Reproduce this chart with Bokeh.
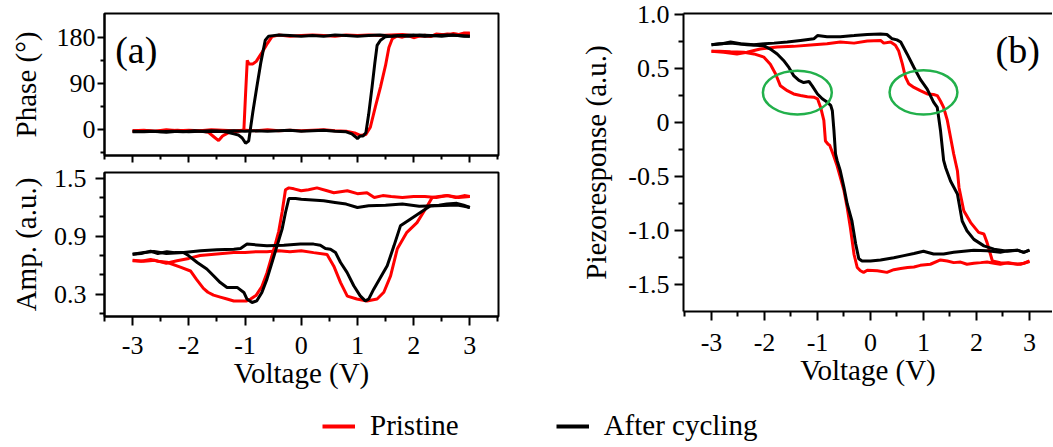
from bokeh.plotting import figure
from bokeh.models import FixedTicker, LinearAxis, Label, Legend, LegendItem, Range1d
from bokeh.layouts import column, row
from bokeh.embed import file_html
from bokeh.resources import INLINE

FONT = "Liberation Serif"
RED = "#ff0000"
BLACK = "#000000"
GREEN = "#22b04b"

# ---------------- data: phase (a, top) ----------------
phase_black_up_v = [-3.0,-2.8,-2.6,-2.4,-2.2,-2.0,-1.8,-1.6,-1.4,-1.2,-1.0,-0.8,-0.6,-0.4,-0.2,0.0,0.2,0.4,0.6,0.8,0.9,0.97,1.0,1.05,1.1,1.15,1.2,1.26,1.31,1.35,1.41,1.5,1.7,1.9,2.1,2.3,2.5,2.7,2.9,3.0]
phase_black_up = [-3,-4,-3,-5,-3,-4,-3,-2,-3,-2,-3,-2,-3,-2,-1,-3,-2,-1,-3,-4,-8,-14,-17,-12,-12,-6,30,83,130,164,174,181,183,182,184,183,182,184,182,182]
phase_black_down_v = [3.0,2.8,2.6,2.4,2.2,2.0,1.8,1.6,1.4,1.2,1.0,0.8,0.6,0.4,0.2,0.0,-0.2,-0.4,-0.5,-0.58,-0.64,-0.72,-0.79,-0.86,-0.935,-0.99,-1.05,-1.12,-1.2,-1.35,-1.5,-1.7,-1.9,-2.1,-2.3,-2.5,-2.7,-2.9,-3.0]
phase_black_down = [182,183,184,183,182,184,183,182,184,183,182,183,184,182,183,182,183,184,183,182,174,130,83,35,-22,-26,-16,-10,-8,-4,-3,-4,-2,-4,-3,-4,-3,-4,-4]
phase_red_up_v = [-3.0,-2.8,-2.6,-2.4,-2.2,-2.0,-1.8,-1.6,-1.4,-1.2,-1.0,-0.8,-0.6,-0.4,-0.2,0.0,0.2,0.4,0.6,0.8,0.95,1.05,1.15,1.23,1.32,1.41,1.5,1.56,1.62,1.7,1.8,1.9,2.0,2.1,2.2,2.3,2.4,2.5,2.6,2.7,2.8,2.9,3.0]
phase_red_up = [-2,-1,-3,0,-2,-1,-2,0,-1,-2,-1,-2,0,-2,-1,-2,-1,0,-2,-3,-6,-11,-9,5,45,83,125,160,177,182,180,183,179,182,184,181,186,185,183,187,185,188,188]
phase_red_down_v = [3.0,2.8,2.6,2.4,2.2,2.0,1.8,1.6,1.4,1.2,1.0,0.8,0.6,0.4,0.2,0.0,-0.2,-0.4,-0.52,-0.6,-0.7,-0.8,-0.86,-0.93,-0.96,-0.99,-1.02,-1.1,-1.2,-1.3,-1.4,-1.47,-1.55,-1.65,-1.8,-2.0,-2.2,-2.4,-2.6,-2.8,-3.0]
phase_red_down = [187,185,186,183,182,183,185,184,183,184,183,184,182,183,184,183,182,184,181,168,150,133,128,128,135,70,0,-3,-4,-6,-12,-21,-14,-5,-2,-3,-1,-2,-3,-2,-3]

# ---------------- data: amplitude (a, bottom) ----------------
amp_red_down_v = [3.0,2.8,2.6,2.4,2.2,2.0,1.8,1.6,1.45,1.3,1.17,1.0,0.82,0.58,0.46,0.28,0.13,0.0,-0.13,-0.22,-0.28,-0.34,-0.4,-0.47,-0.54,-0.61,-0.7,-0.8,-0.9,-0.97,-1.1,-1.2,-1.32,-1.44,-1.56,-1.66,-1.74,-1.86,-1.97,-2.15,-2.39,-2.55,-2.68,-2.85,-3.0]
amp_red_down = [1.31,1.30,1.32,1.30,1.31,1.31,1.30,1.31,1.32,1.30,1.35,1.34,1.37,1.35,1.37,1.40,1.38,1.37,1.39,1.40,1.38,1.15,0.95,0.80,0.66,0.52,0.38,0.29,0.25,0.23,0.23,0.23,0.25,0.27,0.29,0.32,0.36,0.45,0.54,0.58,0.63,0.64,0.66,0.64,0.645]
amp_red_up_v = [-3.0,-2.8,-2.6,-2.4,-2.21,-2.0,-1.8,-1.6,-1.4,-1.2,-1.0,-0.8,-0.61,-0.4,-0.2,0.0,0.22,0.46,0.58,0.7,0.82,0.99,1.17,1.35,1.47,1.59,1.71,1.88,2.06,2.24,2.33,2.45,2.6,2.75,2.9,3.0]
amp_red_up = [0.65,0.64,0.65,0.62,0.645,0.67,0.70,0.71,0.72,0.73,0.73,0.74,0.74,0.75,0.74,0.75,0.73,0.71,0.59,0.42,0.28,0.25,0.23,0.25,0.32,0.49,0.77,0.94,1.04,1.21,1.30,1.31,1.32,1.30,1.32,1.31]
amp_black_down_v = [3.0,2.9,2.8,2.65,2.4,2.1,1.8,1.5,1.2,1.0,0.8,0.6,0.4,0.2,0.0,-0.1,-0.22,-0.28,-0.34,-0.43,-0.52,-0.61,-0.70,-0.79,-0.875,-0.965,-1.02,-1.14,-1.23,-1.32,-1.44,-1.56,-1.68,-1.85,-2.0,-2.09,-2.25,-2.39,-2.55,-2.68,-2.85,-3.0]
amp_black_down = [1.197,1.21,1.22,1.22,1.214,1.21,1.232,1.22,1.214,1.197,1.232,1.249,1.266,1.275,1.283,1.29,1.29,1.145,0.973,0.80,0.628,0.456,0.318,0.231,0.214,0.249,0.318,0.37,0.37,0.37,0.42,0.49,0.56,0.628,0.697,0.73,0.73,0.74,0.72,0.745,0.72,0.714]
amp_black_up_v = [-3.0,-2.8,-2.62,-2.4,-2.09,-1.79,-1.5,-1.2,-1.08,-0.965,-0.79,-0.61,-0.31,-0.015,0.22,0.34,0.43,0.52,0.61,0.70,0.815,0.935,1.05,1.14,1.20,1.29,1.41,1.53,1.65,1.765,1.94,2.12,2.30,2.45,2.59,2.77,2.89,3.0]
amp_black_up = [0.714,0.731,0.742,0.72,0.731,0.749,0.759,0.766,0.773,0.818,0.81,0.80,0.807,0.818,0.818,0.807,0.773,0.766,0.731,0.628,0.525,0.387,0.283,0.231,0.249,0.352,0.473,0.594,0.80,1.007,1.076,1.145,1.214,1.22,1.232,1.24,1.22,1.197]

# ---------------- data: piezoresponse (b) ----------------
pr_black_up_v = [-3.0,-2.8,-2.64,-2.45,-2.2,-2.0,-1.82,-1.57,-1.32,-1.07,-1.0,-0.82,-0.57,-0.31,-0.06,0.19,0.31,0.41,0.5,0.57,0.69,0.82,0.94,1.07,1.19,1.26,1.32,1.38,1.42,1.51,1.64,1.73,1.82,1.95,2.14,2.33,2.58,2.77,2.89,3.0]
pr_black_up = [0.72,0.73,0.745,0.73,0.72,0.73,0.735,0.745,0.76,0.775,0.805,0.795,0.795,0.805,0.815,0.82,0.815,0.775,0.765,0.745,0.635,0.51,0.40,0.31,0.19,0.14,-0.07,-0.35,-0.42,-0.54,-0.66,-0.91,-1.0,-1.08,-1.14,-1.17,-1.19,-1.18,-1.20,-1.18]
pr_black_down_v = [3.0,2.89,2.77,2.58,2.45,2.2,1.95,1.76,1.57,1.38,1.19,1.0,0.82,0.63,0.44,0.19,0.0,-0.16,-0.22,-0.28,-0.35,-0.44,-0.5,-0.57,-0.63,-0.66,-0.69,-0.72,-0.75,-0.82,-0.91,-1.0,-1.1,-1.16,-1.26,-1.35,-1.45,-1.54,-1.64,-1.76,-1.89,-2.01,-2.33,-2.64,-2.85,-3.0]
pr_black_down = [-1.18,-1.2,-1.18,-1.185,-1.2,-1.185,-1.18,-1.19,-1.2,-1.215,-1.215,-1.19,-1.21,-1.23,-1.25,-1.27,-1.28,-1.28,-1.26,-1.12,-0.91,-0.75,-0.60,-0.445,-0.35,-0.29,-0.07,0.11,0.16,0.19,0.22,0.265,0.34,0.38,0.37,0.39,0.435,0.51,0.575,0.635,0.68,0.71,0.72,0.735,0.73,0.72]
pr_red_up_v = [-3.0,-2.77,-2.52,-2.33,-2.08,-1.76,-1.45,-1.07,-0.82,-0.57,-0.31,-0.06,0.19,0.25,0.38,0.47,0.53,0.60,0.66,0.72,0.82,0.94,1.07,1.19,1.26,1.32,1.38,1.45,1.51,1.57,1.64,1.67,1.76,1.89,2.04,2.14,2.2,2.3,2.45,2.6,2.7,2.83,3.0]
pr_red_up = [0.66,0.65,0.635,0.65,0.68,0.70,0.705,0.72,0.73,0.745,0.735,0.755,0.76,0.735,0.745,0.715,0.665,0.545,0.42,0.36,0.325,0.295,0.265,0.26,0.25,0.20,0.14,0.02,-0.135,-0.29,-0.445,-0.6,-0.815,-0.925,-1.015,-1.03,-1.11,-1.28,-1.295,-1.3,-1.305,-1.31,-1.285]
pr_red_down_v = [3.0,2.9,2.77,2.6,2.45,2.33,2.2,2.08,1.95,1.82,1.7,1.57,1.45,1.32,1.13,0.94,0.82,0.7,0.57,0.44,0.31,0.13,-0.06,-0.13,-0.19,-0.25,-0.31,-0.38,-0.44,-0.5,-0.57,-0.63,-0.7,-0.77,-0.8,-0.85,-0.88,-0.94,-1.0,-1.07,-1.19,-1.32,-1.45,-1.57,-1.7,-1.79,-1.89,-2.01,-2.2,-2.39,-2.64,-2.85,-3.0]
pr_red_down = [-1.28,-1.3,-1.31,-1.295,-1.31,-1.30,-1.29,-1.295,-1.30,-1.31,-1.29,-1.295,-1.28,-1.27,-1.31,-1.32,-1.335,-1.34,-1.35,-1.36,-1.385,-1.37,-1.365,-1.385,-1.37,-1.34,-1.22,-0.97,-0.785,-0.63,-0.505,-0.4,-0.3,-0.21,-0.2,-0.17,0.02,0.14,0.22,0.235,0.24,0.25,0.265,0.295,0.34,0.45,0.54,0.605,0.635,0.65,0.655,0.66,0.66]

# highlighted regions (green ellipses) in (b)
ell_v = [-1.38, 1.0]
ell_y = [0.278, 0.28]
ell_w = [1.30, 1.28]
ell_h = [0.405, 0.41]

volt_ticks = [-3, -2, -1, 0, 1, 2, 3]
volt_minor = [-3.5, -2.5, -1.5, -0.5, 0.5, 1.5, 2.5, 3.5]
volt_labels = {t: str(t) for t in volt_ticks}
phase_ticks = [0, 90, 180]
phase_minor = [-45, 45, 135]
amp_ticks = [0.3, 0.9, 1.5]
amp_minor = [0.1, 0.5, 0.7, 1.1, 1.3]
pr_ticks = [-1.5, -1.0, -0.5, 0, 0.5, 1.0]
pr_minor = [-1.75, -1.25, -0.75, -0.25, 0.25, 0.75]
pr_labels = {-1.5: "-1.5", -1.0: "-1.0", -0.5: "-0.5", 0: "0", 0.5: "0.5", 1.0: "1.0"}


def style_axis(ax, tick_out=9, minor_out=5):
    ax.axis_line_width = 2
    ax.axis_line_color = "black"
    ax.major_tick_line_width = 2
    ax.minor_tick_line_width = 2
    ax.major_tick_line_color = "black"
    ax.minor_tick_line_color = "black"
    ax.major_tick_out = tick_out
    ax.major_tick_in = 0
    ax.minor_tick_out = minor_out
    ax.minor_tick_in = 0
    ax.major_label_text_font = FONT
    ax.major_label_text_font_size = "26px"
    ax.major_label_text_color = "black"
    ax.axis_label_text_font = FONT
    ax.axis_label_text_font_style = "normal"
    ax.axis_label_text_font_size = "29px"
    ax.axis_label_text_color = "black"


def base(width, height, xr, yr, ml, mr, mt, mb):
    p = figure(width=width, height=height, x_range=Range1d(*xr), y_range=Range1d(*yr),
               toolbar_location=None, output_backend="svg",
               min_border_left=ml, min_border_right=mr, min_border_top=mt, min_border_bottom=mb)
    p.xgrid.visible = False
    p.ygrid.visible = False
    p.background_fill_color = "white"
    p.border_fill_color = "white"
    return p


# ---------- (a) phase ----------
pa = base(508, 163, (-3.5, 3.51), (-50, 226), 104, 10, 13, 8)
pa.outline_line_color = "black"
pa.outline_line_width = 2
pa.outline_line_alpha = 1
pa.xaxis.ticker = FixedTicker(ticks=volt_ticks, minor_ticks=volt_minor)
pa.yaxis.ticker = FixedTicker(ticks=phase_ticks, minor_ticks=phase_minor)
pa.yaxis.axis_label = "Phase (°)"
for ax in pa.xaxis:
    style_axis(ax, 7, 4)
for ax in pa.yaxis:
    style_axis(ax, 7, 4)
pa.xaxis.major_label_text_font_size = "0px"
pa.xaxis.major_label_text_color = None
pa.xaxis.major_label_standoff = 0
pa.yaxis.axis_label_standoff = 12
pa.yaxis.major_label_standoff = 2
pa.line(phase_red_up_v, phase_red_up, color=RED, line_width=3)
pa.line(phase_red_down_v, phase_red_down, color=RED, line_width=3)
pa.line(phase_black_up_v, phase_black_up, color=BLACK, line_width=3)
pa.line(phase_black_down_v, phase_black_down, color=BLACK, line_width=3)
pa.add_layout(Label(x=-3.31, y=156, text="(a)", text_font=FONT, text_font_size="38px",
                    text_baseline="middle", text_align="left", text_color="black"))

# ---------- (a) amplitude ----------
pb = base(508, 231, (-3.5, 3.51), (0.069, 1.559), 104, 10, 9, 78)
pb.outline_line_color = "black"
pb.outline_line_width = 2
pb.xaxis.ticker = FixedTicker(ticks=volt_ticks, minor_ticks=volt_minor)
pb.xaxis.major_label_overrides = volt_labels
pb.xaxis.axis_label = "Voltage (V)"
pb.yaxis.ticker = FixedTicker(ticks=amp_ticks, minor_ticks=amp_minor)
pb.yaxis.axis_label = "Amp. (a.u.)"
for ax in pb.xaxis + pb.yaxis:
    style_axis(ax)
pb.yaxis.axis_label_standoff = 9
pb.yaxis.major_label_standoff = 9
pb.xaxis.major_label_standoff = 11
pb.xaxis.axis_label_standoff = 0
pb.line(amp_red_up_v, amp_red_up, color=RED, line_width=3)
pb.line(amp_red_down_v, amp_red_down, color=RED, line_width=3)
pb.line(amp_black_up_v, amp_black_up, color=BLACK, line_width=3)
pb.line(amp_black_down_v, amp_black_down, color=BLACK, line_width=3)

# ---------- (b) piezoresponse ----------
pc = base(544, 394, (-3.528, 3.434), (-1.747, 1.009), 175, 0, 13, 83)
pc.outline_line_color = None
top_axis = LinearAxis(ticker=FixedTicker(ticks=[]), major_tick_line_color=None,
                      minor_tick_line_color=None, major_label_text_font_size="0px",
                      major_label_text_color=None, major_label_standoff=0,
                      axis_line_width=2, axis_line_color="black")
pc.add_layout(top_axis, "above")
pc.below[0].ticker = FixedTicker(ticks=volt_ticks, minor_ticks=volt_minor)
pc.below[0].major_label_overrides = volt_labels
pc.below[0].axis_label = "Voltage (V)"
pc.yaxis.ticker = FixedTicker(ticks=pr_ticks, minor_ticks=pr_minor)
pc.yaxis.major_label_overrides = pr_labels
pc.yaxis.axis_label = "Piezoresponse (a.u.)"
for ax in [pc.below[0]] + list(pc.left):
    style_axis(ax)
pc.yaxis.axis_label_standoff = 13
pc.yaxis.major_label_standoff = 5
pc.below[0].major_label_standoff = 13
pc.below[0].axis_label_standoff = 0
pc.line(pr_red_up_v, pr_red_up, color=RED, line_width=3)
pc.line(pr_red_down_v, pr_red_down, color=RED, line_width=3)
pc.line(pr_black_up_v, pr_black_up, color=BLACK, line_width=3)
pc.line(pr_black_down_v, pr_black_down, color=BLACK, line_width=3)
pc.ellipse(x=ell_v, y=ell_y, width=ell_w, height=ell_h, fill_color=None,
           line_color=GREEN, line_width=2.5)
pc.add_layout(Label(x=2.36, y=0.676, text="(b)", text_font=FONT, text_font_size="38px",
                    text_baseline="middle", text_align="left", text_color="black"))

# ---------- legend strip ----------
pl = figure(width=1052, height=52, toolbar_location=None, output_backend="svg",
            x_range=Range1d(0, 1), y_range=Range1d(0, 1),
            x_axis_location=None, y_axis_location=None, min_border=0)
pl.grid.visible = False
pl.outline_line_color = None
r1 = pl.line([-5, -4], [-5, -4], color=RED, line_width=4)
r2 = pl.line([-5, -4], [-5, -4], color=BLACK, line_width=4)
leg = Legend(items=[LegendItem(label="Pristine", renderers=[r1]),
                    LegendItem(label="After cycling", renderers=[r2])],
             orientation="horizontal", location=(322, 4), glyph_width=33, glyph_height=30,
             label_standoff=15, spacing=97, padding=0, margin=0,
             border_line_color=None, background_fill_alpha=0,
             label_text_font=FONT, label_text_font_size="29px", label_text_color="black")
pl.add_layout(leg)

layout = column(row(column(pa, pb), pc), pl)
open("out.html", "w").write(file_html(layout, INLINE))
